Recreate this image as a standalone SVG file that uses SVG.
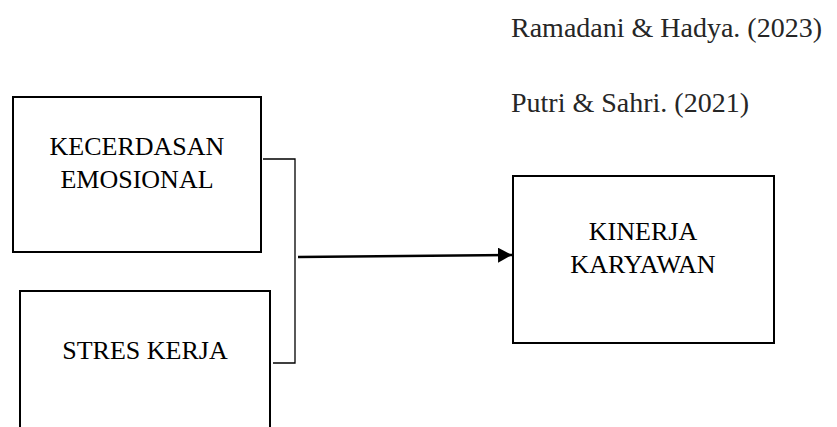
<svg xmlns="http://www.w3.org/2000/svg" width="837" height="427" viewBox="0 0 837 427">
<style>
.box{fill:#fff;stroke:#000;stroke-width:2}
.lbl{font-family:"Liberation Serif","Times New Roman",serif;font-size:26px;fill:#000;text-anchor:middle}
.cite{font-family:"Liberation Serif","Times New Roman",serif;font-size:28px;fill:#262626}
.br{fill:none;stroke:#000;stroke-width:1.3}
</style>
<defs>
<marker id="ah" markerWidth="14" markerHeight="15" refX="14" refY="7.5" orient="auto" markerUnits="userSpaceOnUse">
<path d="M0,0 L14,7.5 L0,15 Z" fill="#000"/>
</marker>
</defs>
<rect width="837" height="427" fill="#fff"/>
<g id="citations">
<text class="cite" x="511" y="37">Ramadani &amp; Hadya. (2023)</text>
<text class="cite" x="511" y="112">Putri &amp; Sahri. (2021)</text>
</g>
<g id="node-kecerdasan">
<rect class="box" x="13" y="97" width="248" height="155"/>
<text class="lbl" x="137" y="155">KECERDASAN</text>
<text class="lbl" x="137" y="188">EMOSIONAL</text>
</g>
<g id="node-stres">
<rect class="box" x="20" y="291" width="250" height="150"/>
<text class="lbl" x="145" y="359">STRES KERJA</text>
</g>
<g id="node-kinerja">
<rect class="box" x="513" y="176" width="261" height="167"/>
<text class="lbl" x="643" y="240">KINERJA</text>
<text class="lbl" x="643" y="273">KARYAWAN</text>
</g>
<g id="connectors">
<path class="br" d="M263,159 H295 V363 H273"/>
<line x1="298" y1="257" x2="512" y2="255" stroke="#000" stroke-width="2.5" marker-end="url(#ah)"/>
</g>
</svg>
